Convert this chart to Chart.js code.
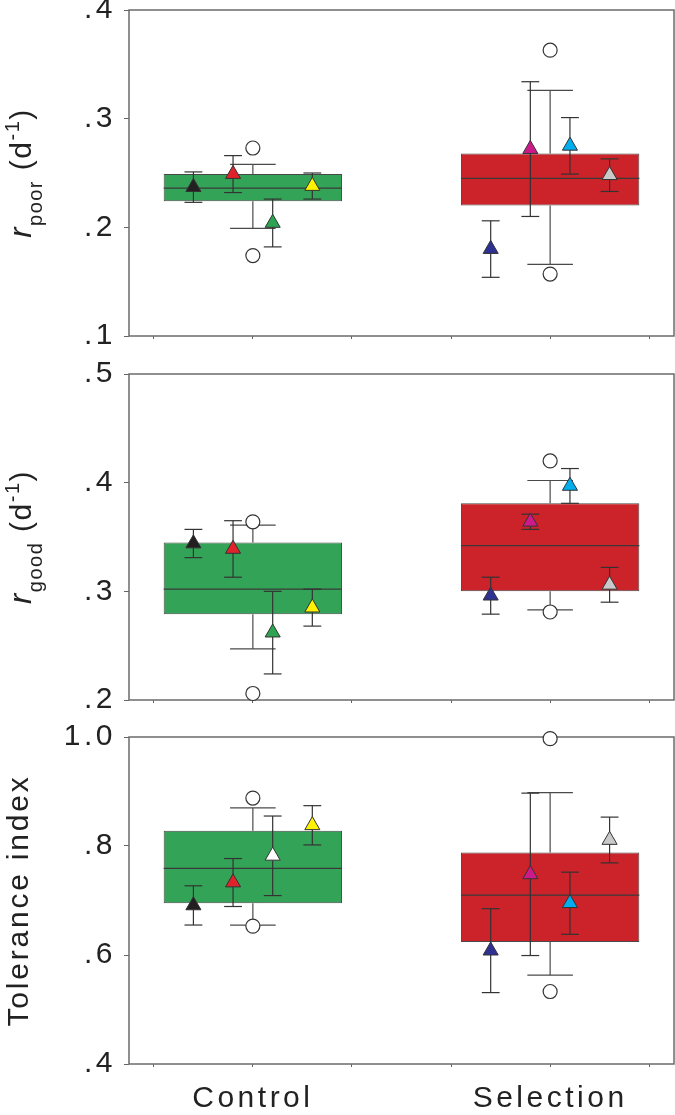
<!DOCTYPE html>
<html>
<head>
<meta charset="utf-8">
<script src="https://cdn.jsdelivr.net/npm/chart.js@4.4.1/dist/chart.umd.min.js"></script>
<style>
  html, body { margin: 0; padding: 0; background: #fff; }
  #wrap { position: relative; width: 675px; height: 1115px; overflow: hidden; }
  #wrap canvas { position: absolute; left: 0; }
</style>
</head>
<body>
<div id="wrap">
  <canvas id="poorChart" width="675" height="355" style="top:0px"></canvas>
  <canvas id="goodChart" width="675" height="364" style="top:355px"></canvas>
  <canvas id="tolChart" width="675" height="396" style="top:719px"></canvas>
</div>
<script>
// groups on the x axis and the four lines inside each group
const groups = ['Control', 'Selection'];
const groupPos = [2, 5];
const linePos = [-0.6, -0.2, 0.2, 0.6];
const xTicks = [1, 2, 3, 4, 5, 6];

// r poor (d-1)
const poorTicks = [0.1, 0.2, 0.3, 0.4];
const poorTickLabels = ['.1', '.2', '.3', '.4'];
const poorQ1 = [0.224, 0.220];
const poorMedian = [0.236, 0.245];
const poorQ3 = [0.249, 0.268];
const poorLow = [0.199, 0.166];
const poorHigh = [0.258, 0.326];
const poorOutliers = [[0.273, 0.174], [0.363, 0.157]];
const poorMeans = [[0.237, 0.249, 0.204, 0.238], [0.180, 0.272, 0.275, 0.248]];
const poorErr = [[0.014, 0.017, 0.022, 0.012], [0.026, 0.062, 0.026, 0.015]];

// r good (d-1)
const goodTicks = [0.2, 0.3, 0.4, 0.5];
const goodTickLabels = ['.2', '.3', '.4', '.5'];
const goodQ1 = [0.279, 0.300];
const goodMedian = [0.302, 0.342];
const goodQ3 = [0.345, 0.381];
const goodLow = [0.247, 0.283];
const goodHigh = [0.361, 0.402];
const goodOutliers = [[0.364, 0.206], [0.420, 0.281]];
const goodMeans = [[0.344, 0.339, 0.262, 0.285], [0.296, 0.364, 0.397, 0.306]];
const goodErr = [[0.013, 0.026, 0.038, 0.017], [0.017, 0.007, 0.016, 0.016]];

// tolerance index
const tolTicks = [0.4, 0.6, 0.8, 1.0];
const tolTickLabels = ['.4', '.6', '.8', '1.0'];
const tolQ1 = [0.695, 0.624];
const tolMedian = [0.759, 0.710];
const tolQ3 = [0.828, 0.788];
const tolLow = [0.655, 0.563];
const tolHigh = [0.870, 0.898];
const tolOutliers = [[0.888, 0.653], [0.997, 0.533]];
const tolMeans = [[0.691, 0.733, 0.782, 0.838], [0.608, 0.748, 0.695, 0.811]];
const tolErr = [[0.036, 0.044, 0.073, 0.036], [0.077, 0.149, 0.057, 0.042]];

// colours
const boxColors = ['#33a457', '#cc2229'];
const lineColors = [['#231f20', '#e0232b', '#2ca451', '#fff200'], ['#2e3192', '#cc1a8a', '#00aeef', '#c9c9c9']];
const tolLineColors = [['#231f20', '#e0232b', '#ffffff', '#fff200'], ['#2e3192', '#cc1a8a', '#00aeef', '#c9c9c9']];

const FONT = "Arial, 'Liberation Sans', sans-serif";
Chart.defaults.font.family = FONT;
Chart.defaults.color = '#222';

function drawTitle(ctx, parts, baseX, cy, spacing) {
  const fonts = {
    normal: '30px ' + FONT,
    italic: 'italic 31px ' + FONT,
    sub: '20px ' + FONT,
    sup: '20px ' + FONT
  };
  const shift = { normal: 0, italic: 0, sub: 11, sup: -12 };
  ctx.save();
  ctx.letterSpacing = spacing;
  ctx.fillStyle = '#222';
  ctx.textAlign = 'left';
  ctx.textBaseline = 'alphabetic';
  let total = 0;
  const widths = parts.map(p => {
    ctx.font = fonts[p.style];
    const w = ctx.measureText(p.text).width;
    total += w;
    return w;
  });
  ctx.translate(baseX, cy);
  ctx.rotate(-Math.PI / 2);
  let u = -total / 2;
  parts.forEach((p, i) => {
    ctx.font = fonts[p.style];
    ctx.fillText(p.text, u, shift[p.style]);
    u += widths[i];
  });
  ctx.restore();
}

function makePanel(id, panel) {
  const boxData = groupPos.map((x, i) => ({ x: x, y: [panel.q1[i], panel.q3[i]] }));
  const outlierData = [];
  panel.outliers.forEach((row, i) => row.forEach(v => outlierData.push({ x: groupPos[i], y: v })));
  const meanData = [];
  const meanColors = [];
  panel.means.forEach((row, i) => row.forEach((v, j) => {
    meanData.push({ x: groupPos[i] + linePos[j], y: v });
    meanColors.push(panel.colors[i][j]);
  }));

  const extras = {
    id: 'boxExtras',
    beforeDraw(chart) {
      chart.ctx.letterSpacing = '3.5px';
    },
    beforeDatasetsDraw(chart) {
      const { ctx, chartArea: a } = chart;
      ctx.save();
      ctx.strokeStyle = '#6b6b6b';
      ctx.lineWidth = 1.5;
      ctx.strokeRect(a.left, a.top, a.right - a.left, a.bottom - a.top);
      ctx.restore();
    },
    afterDatasetDraw(chart, args) {
      if (args.index !== 0) return;
      const ctx = chart.ctx;
      const xs = chart.scales.x, ys = chart.scales.y;
      const boxMeta = chart.getDatasetMeta(0);
      const seg = (x1, y1, x2, y2) => {
        ctx.beginPath(); ctx.moveTo(x1, y1); ctx.lineTo(x2, y2); ctx.stroke();
      };
      ctx.save();
      ctx.lineWidth = 1.2;
      ctx.strokeStyle = '#4a4a4a';
      groupPos.forEach((g, i) => {
        const bar = boxMeta.data[i];
        const cx = xs.getPixelForValue(g);
        const half = bar.width / 2;
        const ym = ys.getPixelForValue(panel.median[i]);
        ctx.strokeStyle = '#3a3a3a';
        seg(cx - half, ym, cx + half, ym);
        ctx.strokeStyle = '#4a4a4a';
        const capL = xs.getPixelForValue(g - 0.23), capR = xs.getPixelForValue(g + 0.23);
        const yHi = ys.getPixelForValue(panel.high[i]), yLo = ys.getPixelForValue(panel.low[i]);
        seg(cx, ys.getPixelForValue(panel.q3[i]), cx, yHi);
        seg(cx, ys.getPixelForValue(panel.q1[i]), cx, yLo);
        seg(capL, yHi, capR, yHi);
        seg(capL, yLo, capR, yLo);
      });
      ctx.strokeStyle = '#333';
      panel.means.forEach((row, i) => row.forEach((m, j) => {
        const xv = groupPos[i] + linePos[j];
        const cx = xs.getPixelForValue(xv);
        const l = xs.getPixelForValue(xv - 0.09), r = xs.getPixelForValue(xv + 0.09);
        const yT = ys.getPixelForValue(m + panel.err[i][j]);
        const yB = ys.getPixelForValue(m - panel.err[i][j]);
        seg(cx, yT, cx, yB);
        seg(l, yT, r, yT);
        seg(l, yB, r, yB);
      }));
      ctx.restore();
    },
    afterDraw(chart) {
      const a = chart.chartArea;
      drawTitle(chart.ctx, panel.title, panel.titleX, (a.top + a.bottom) / 2, panel.titleSpacing);
      chart.ctx.letterSpacing = '0px';
    }
  };

  return new Chart(document.getElementById(id), {
    type: 'scatter',
    data: {
      datasets: [
        {
          type: 'bar',
          data: boxData,
          backgroundColor: boxColors,
          borderColor: '#484848',
          borderWidth: 1,
          borderSkipped: false,
          barPercentage: 1.8,
          categoryPercentage: 1,
          order: 3
        },
        {
          data: outlierData,
          pointStyle: 'circle',
          pointRadius: 7,
          pointBackgroundColor: '#fff',
          pointBorderColor: '#333',
          pointBorderWidth: 1.2,
          clip: false,
          order: 2
        },
        {
          data: meanData,
          pointStyle: 'triangle',
          pointRadius: 8.7,
          pointBackgroundColor: meanColors,
          pointBorderColor: '#333',
          pointBorderWidth: 1,
          clip: false,
          order: 1
        }
      ]
    },
    options: {
      responsive: false,
      animation: false,
      events: [],
      layout: { autoPadding: false, padding: { top: panel.padTop, right: 1, left: 0, bottom: 0 } },
      plugins: { legend: { display: false }, tooltip: { enabled: false } },
      scales: {
        x: {
          type: 'linear',
          offset: false,
          min: 0.75,
          max: 6.25,
          afterBuildTicks: s => { s.ticks = xTicks.map(v => ({ value: v })); },
          afterFit: s => {
            s.height = panel.xAxisHeight;
            s.paddingLeft = 0; s.paddingRight = 0; s.paddingTop = 0; s.paddingBottom = 0;
          },
          border: { display: false },
          grid: { offset: false, drawOnChartArea: false, drawTicks: true, tickLength: 3, color: '#666' },
          ticks: {
            display: panel.showGroups,
            autoSkip: false,
            maxRotation: 0,
            padding: 14,
            font: { size: 30 },
            color: '#222',
            callback: v => {
              const k = groupPos.indexOf(v);
              return k >= 0 ? groups[k] : '';
            }
          }
        },
        y: {
          type: 'linear',
          min: panel.ticks[0],
          max: panel.ticks[panel.ticks.length - 1],
          afterBuildTicks: s => { s.ticks = panel.ticks.map(v => ({ value: v })); },
          afterFit: s => {
            s.width = 129;
            s.paddingLeft = 0; s.paddingRight = 0; s.paddingTop = 0; s.paddingBottom = 0;
          },
          border: { display: false },
          grid: { drawOnChartArea: false, drawTicks: true, tickLength: 5, color: '#666' },
          ticks: {
            padding: 8,
            font: { size: 30 },
            color: '#222',
            callback: (v, i) => panel.tickLabels[i]
          }
        }
      }
    },
    plugins: [extras]
  });
}

makePanel('poorChart', {
  ticks: poorTicks, tickLabels: poorTickLabels,
  q1: poorQ1, median: poorMedian, q3: poorQ3, low: poorLow, high: poorHigh,
  outliers: poorOutliers, means: poorMeans, err: poorErr, colors: lineColors,
  padTop: 10, xAxisHeight: 19, showGroups: false, titleX: 31, titleSpacing: '1.5px',
  title: [
    { text: 'r', style: 'italic' }, { text: 'poor', style: 'sub' },
    { text: ' (d', style: 'normal' }, { text: '-1', style: 'sup' }, { text: ')', style: 'normal' }
  ]
});

makePanel('goodChart', {
  ticks: goodTicks, tickLabels: goodTickLabels,
  q1: goodQ1, median: goodMedian, q3: goodQ3, low: goodLow, high: goodHigh,
  outliers: goodOutliers, means: goodMeans, err: goodErr, colors: lineColors,
  padTop: 19, xAxisHeight: 19, showGroups: false, titleX: 31, titleSpacing: '1.5px',
  title: [
    { text: 'r', style: 'italic' }, { text: 'good', style: 'sub' },
    { text: ' (d', style: 'normal' }, { text: '-1', style: 'sup' }, { text: ')', style: 'normal' }
  ]
});

makePanel('tolChart', {
  ticks: tolTicks, tickLabels: tolTickLabels,
  q1: tolQ1, median: tolMedian, q3: tolQ3, low: tolLow, high: tolHigh,
  outliers: tolOutliers, means: tolMeans, err: tolErr, colors: tolLineColors,
  padTop: 18, xAxisHeight: 51, showGroups: true, titleX: 28, titleSpacing: '2.8px',
  title: [{ text: 'Tolerance index', style: 'normal' }]
});
</script>
</body>
</html>
